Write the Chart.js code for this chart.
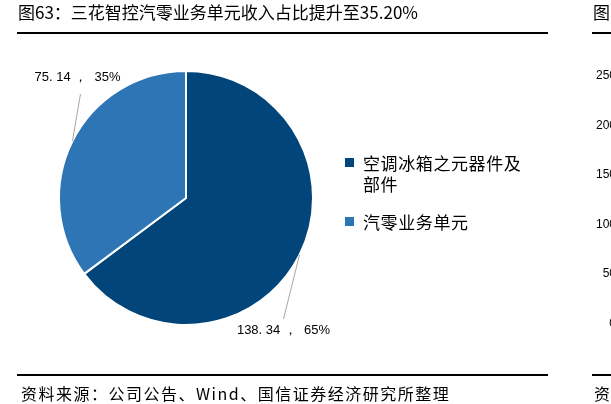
<!DOCTYPE html>
<html>
<head>
<meta charset="utf-8">
<script src="https://cdn.jsdelivr.net/npm/chart.js@4.4.0/dist/chart.umd.min.js"></script>
<style>
  html, body { margin: 0; padding: 0; width: 611px; height: 404px; overflow: hidden; background: #fff; }
  body { position: relative; font-family: "Noto Sans CJK SC", sans-serif; color: #000; }
  #chart { position: absolute; left: 0; top: 0; }
  .abs { position: absolute; white-space: nowrap; }
  .title { left: 18px; top: 0px; font-size: 17px; line-height: 24px; letter-spacing: 0; }
  .rule { position: absolute; height: 2px; background: #000; }
  .foot { left: 21px; top: 381px; font-size: 16px; line-height: 24px; letter-spacing: 1.5px; }
  .legend { left: 345px; font-size: 17px; line-height: 21px; letter-spacing: 0.6px; }
  .legend .sw { position: absolute; left: 0; width: 9px; height: 9px; }
  .legend .tx { position: absolute; left: 18px; }
  .tick { left: 560px; width: 56px; text-align: right; font-family: "Liberation Sans", Arial, sans-serif; font-size: 12px; line-height: 14px; }
</style>
</head>
<body>
<canvas id="chart" width="611" height="404"></canvas>

<div class="abs title">图63：三花智控汽零业务单元收入占比提升至35.20%</div>
<div class="rule" style="left:17px; top:32px; width:531px;"></div>
<div class="rule" style="left:17px; top:374px; width:531px;"></div>
<div class="abs foot">资料来源：公司公告、Wind、国信证券经济研究所整理</div>

<div id="legend"></div>

<!-- edge of the neighbouring chart -->
<div class="abs title" style="left:593px;">图</div>
<div class="rule" style="left:592px; top:32px; width:19px;"></div>
<div class="rule" style="left:592px; top:374px; width:19px;"></div>
<div class="abs foot" style="left:594px;">资</div>
<div id="ticks"></div>

<script>
"use strict";

// ── Data ─────────────────────────────────────────────────────────────────────

const categories = ["空调冰箱之元器件及部件", "汽零业务单元"];
const legendLines = [["空调冰箱之元器件及", "部件"], ["汽零业务单元"]];
const revenue = [138.34, 75.14];
const colors = ["#02457a", "#2e75b6"];

const sideTicks = ["250", "200", "150", "100", "50", "0"];

// ── Helpers ──────────────────────────────────────────────────────────────────

const $ = (id) => document.getElementById(id);
const total = revenue.reduce((a, b) => a + b, 0);
const pct = (v) => `${Math.round((v / total) * 100)}%`;

// leader line end and label centre, relative to the slice's mid point on the rim
const LABEL_OFFSETS = [
  { line: [-16, 64], text: [-16, 75] },
  { line: [8, -47],  text: [5, -64] },
];

const pieLabels = {
  id: "pieLabels",
  afterDatasetsDraw(chart) {
    const ctx = chart.ctx;
    const meta = chart.getDatasetMeta(0);
    meta.data.forEach((arc, i) => {
      const { x, y, startAngle, endAngle, outerRadius } =
        arc.getProps(["x", "y", "startAngle", "endAngle", "outerRadius"], true);
      const mid = (startAngle + endAngle) / 2;
      const ex = x + Math.cos(mid) * outerRadius;
      const ey = y + Math.sin(mid) * outerRadius;
      const off = LABEL_OFFSETS[i];
      ctx.save();
      ctx.strokeStyle = "#a6a6a6";
      ctx.lineWidth = 1;
      ctx.beginPath();
      ctx.moveTo(ex, ey);
      ctx.lineTo(ex + off.line[0], ey + off.line[1]);
      ctx.stroke();
      ctx.fillStyle = "#000";
      ctx.font = "13px 'Liberation Sans', Arial, sans-serif";
      ctx.textAlign = "center";
      ctx.textBaseline = "middle";
      ctx.fillText(`${revenue[i].toFixed(2).replace(".", ". ")} ，  ${pct(revenue[i])}`,
        ex + off.text[0], ey + off.text[1]);
      ctx.restore();
    });
  },
};

// ── Chart ────────────────────────────────────────────────────────────────────

new Chart($("chart").getContext("2d"), {
  type: "pie",
  data: {
    labels: categories,
    datasets: [{
      data: revenue,
      backgroundColor: colors,
      borderColor: "#fff",
      borderWidth: 2,
    }],
  },
  options: {
    responsive: false,
    animation: false,
    layout: { padding: { left: 58, top: 70, right: 297, bottom: 78 } },
    plugins: {
      legend: { display: false },
      tooltip: { enabled: false },
    },
  },
  plugins: [pieLabels],
});

// ── Legend ───────────────────────────────────────────────────────────────────

const LEGEND_TOPS = [152, 211];
$("legend").innerHTML = categories.map((c, i) => `
  <div class="abs legend" style="top:${LEGEND_TOPS[i]}px">
    <div class="sw" style="top:6px; background:${colors[i]}"></div>
    <div class="tx">${legendLines[i].join("<br>")}</div>
  </div>`).join("");

// ── Neighbouring axis ticks ──────────────────────────────────────────────────

$("ticks").innerHTML = sideTicks.map((t, i) =>
  `<div class="abs tick" style="top:${68 + i * 49.6}px">${t}</div>`).join("");
</script>
</body>
</html>
